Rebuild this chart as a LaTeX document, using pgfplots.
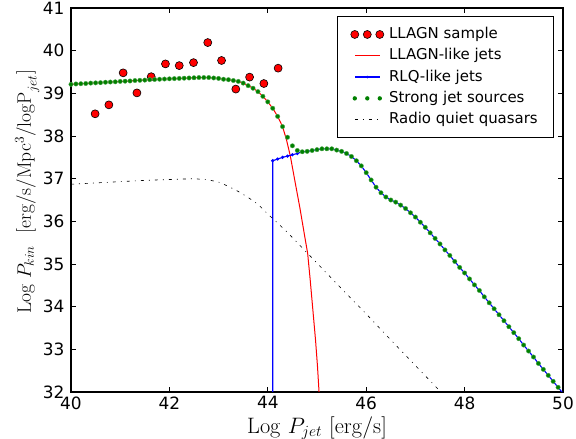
\documentclass[border=0pt]{standalone}
\usepackage[no-math]{fontspec}
\setmainfont{DejaVu Sans}
\usepackage{pgfplots}
\pgfplotsset{compat=1.18}
\definecolor{mplgreen}{rgb}{0,0.5,0}
\definecolor{mplred}{rgb}{1,0,0}

\pgfplotstableread{
x y
40.49 38.52
40.77 38.73
41.06 39.48
41.34 39.01
41.63 39.39
41.92 39.69
42.20 39.65
42.49 39.72
42.78 40.19
43.06 39.77
43.35 39.10
43.63 39.38
43.92 39.23
44.21 39.59
}\llagn

\pgfplotstableread{
x y
40.0 39.21
40.1 39.22
40.2 39.225
40.3 39.23
40.4 39.24
40.5 39.245
40.6 39.25
40.7 39.26
40.8 39.265
40.9 39.27
41.0 39.28
41.1 39.285
41.2 39.29
41.3 39.30
41.4 39.305
41.5 39.31
41.6 39.32
41.7 39.325
41.8 39.33
41.9 39.335
42.0 39.34
42.1 39.345
42.2 39.35
42.3 39.355
42.4 39.36
42.5 39.365
42.6 39.37
42.7 39.37
42.8 39.37
42.9 39.36
43.0 39.35
43.1 39.33
43.2 39.32
43.3 39.30
43.4 39.28
43.5 39.24
43.6 39.18
43.7 39.12
43.8 39.04
43.9 38.93
44.0 38.80
44.1 38.65
44.2 38.46
44.3 38.22
44.38 37.91
44.46 37.52
44.55 36.95
44.65 36.33
44.75 35.65
44.81 35.25
44.86 34.65
44.91 34.00
44.97 33.22
45.01 32.60
45.04 32.03
45.06 31.50
}\llagnjets

\pgfplotstableread{
x y
44.1 20.00
44.1 37.42
44.2 37.46
44.3 37.50
44.4 37.53
44.5 37.56
44.6 37.59
44.7 37.63
44.8 37.64
44.9 37.66
45.0 37.68
45.1 37.70
45.2 37.70
45.3 37.70
45.4 37.67
45.5 37.64
45.6 37.59
45.7 37.52
45.8 37.42
45.9 37.30
46.0 37.14
46.1 36.97
46.2 36.80
46.3 36.67
46.4 36.57
46.5 36.50
46.6 36.45
46.7 36.38
46.8 36.30
46.9 36.20
47.0 36.10
47.1 35.98
47.2 35.86
47.3 35.73
47.4 35.60
47.5 35.47
47.6 35.33
47.7 35.20
47.8 35.06
47.9 34.92
48.0 34.79
48.1 34.65
48.2 34.51
48.3 34.38
48.4 34.23
48.5 34.09
48.6 33.95
48.7 33.81
48.8 33.67
48.9 33.53
49.0 33.39
49.1 33.25
49.2 33.10
49.3 32.96
49.4 32.82
49.5 32.67
49.6 32.53
49.7 32.39
49.8 32.25
49.9 32.11
50.0 31.97
}\rlq

\pgfplotstableread{
x y
40.0 39.21
40.1 39.22
40.2 39.225
40.3 39.23
40.4 39.24
40.5 39.245
40.6 39.25
40.7 39.26
40.8 39.265
40.9 39.27
41.0 39.28
41.1 39.285
41.2 39.29
41.3 39.30
41.4 39.305
41.5 39.31
41.6 39.32
41.7 39.325
41.8 39.33
41.9 39.335
42.0 39.34
42.1 39.345
42.2 39.35
42.3 39.355
42.4 39.36
42.5 39.365
42.6 39.37
42.7 39.37
42.8 39.37
42.9 39.36
43.0 39.35
43.1 39.33
43.2 39.32
43.3 39.30
43.4 39.28
43.5 39.24
43.6 39.18
43.7 39.12
43.8 39.04
43.9 38.93
44.0 38.80
44.1 38.65
44.2 38.46
44.3 38.22
44.4 37.97
44.5 37.77
44.6 37.66
44.7 37.63
44.8 37.64
44.9 37.66
45.0 37.68
45.1 37.70
45.2 37.70
45.3 37.70
45.4 37.67
45.5 37.64
45.6 37.59
45.7 37.52
45.8 37.42
45.9 37.30
46.0 37.14
46.1 36.97
46.2 36.80
46.3 36.67
46.4 36.57
46.5 36.50
46.6 36.45
46.7 36.38
46.8 36.30
46.9 36.20
47.0 36.10
47.1 35.98
47.2 35.86
47.3 35.73
47.4 35.60
47.5 35.47
47.6 35.33
47.7 35.20
47.8 35.06
47.9 34.92
48.0 34.79
48.1 34.65
48.2 34.51
48.3 34.38
48.4 34.23
48.5 34.09
48.6 33.95
48.7 33.81
48.8 33.67
48.9 33.53
49.0 33.39
49.1 33.25
49.2 33.10
49.3 32.96
49.4 32.82
49.5 32.67
49.6 32.53
49.7 32.39
49.8 32.25
49.9 32.11
50.0 31.97
}\strong

\pgfplotstableread{
x y
40.0 36.87
40.5 36.90
41.0 36.93
41.5 36.96
42.0 36.98
42.5 37.00
42.8 36.97
43.0 36.92
43.2 36.82
43.4 36.70
43.6 36.56
43.8 36.40
44.0 36.17
44.2 35.96
44.4 35.74
44.6 35.50
44.8 35.26
45.0 35.02
45.5 34.42
46.0 33.83
46.5 33.22
47.0 32.62
47.5 32.02
47.6 31.90
}\rqq

\begin{document}
\begin{tikzpicture}
\useasboundingbox (-71bp,-47bp) rectangle (505bp,392bp);
\begin{axis}[
  at={(0,0)}, anchor=south west,
  scale only axis, width=492bp, height=384bp,
  xmin=40, xmax=50, ymin=32, ymax=41,
  xtick={40,42,44,46,48,50}, ytick={32,33,34,35,36,37,38,39,40,41},
  tick align=inside, major tick length=5bp,
  xtick pos=both, ytick pos=both,
  tick style={black, line width=0.8bp},
  axis line style={black, line width=1.2bp},
  /pgf/number format/assume math mode=true,
  ticklabel style={font=\fontsize{17}{17}\selectfont},
  xticklabel style={yshift=-1bp},
  yticklabel style={xshift=-3bp},
  xlabel={$\mathrm{Log}\ P_{jet}\ [\mathrm{erg/s}]$},
  ylabel={$\mathrm{Log}\ P_{kin}\ \ [\mathrm{erg/s/Mpc^3/logP}_{jet}]$},
  every axis x label/.style={at={(axis description cs:0.5,-0.1068)}, anchor=base, scale=1.08, font=\fontsize{20.74}{22}\selectfont},
  every axis y label/.style={at={(axis description cs:-0.0813,0.521)}, rotate=90, anchor=base, scale=0.94, font=\fontsize{20.74}{22}\selectfont},
  legend style={
    at={(0.982,0.979)}, anchor=north east,
    draw=black, line width=0.8bp, fill=white,
    inner xsep=11bp, inner ysep=10bp,
    font=\fontsize{15}{15}\selectfont,
    nodes={inner xsep=5bp, inner ysep=0bp, text height=12bp, text depth=4bp},
    row sep=5.3bp,
  },
  legend cell align=left,
]
\addlegendimage{legend image code/.code={\path[draw=none,fill=none] (-6bp,0bp) -- (25bp,0bp);
    \path[draw=black, fill=mplred, line width=0.6bp] (0bp,0bp) circle (4bp) (12.5bp,0bp) circle (4bp) (25bp,0bp) circle (4bp);}}
\addlegendentry{LLAGN sample}
\addlegendimage{legend image code/.code={\path[draw=none,fill=none] (-6bp,0bp) -- (25bp,0bp);
    \path[draw=none, fill=mplred] (0bp,-0.7bp) rectangle (25bp,0.7bp);}}
\addlegendentry{LLAGN-like jets}
\addlegendimage{legend image code/.code={\path[draw=none,fill=none] (-6bp,0bp) -- (25bp,0bp);
    \path[draw=none, fill=blue] (0bp,-0.6bp) rectangle (25bp,0.6bp);
    \path[draw=none, fill=blue] (12.5bp,0bp) circle (1.4bp);}}
\addlegendentry{RLQ-like jets}
\addlegendimage{legend image code/.code={\path[draw=none,fill=none] (-6bp,0bp) -- (25bp,0bp);
    \path[draw=none, fill=mplgreen] (0bp,0bp) circle (2.2bp) (12.5bp,0bp) circle (2.2bp) (25bp,0bp) circle (2.2bp);}}
\addlegendentry{Strong jet sources}
\addlegendimage{legend image code/.code={\path[draw=none,fill=none] (-6bp,0bp) -- (25bp,0bp);
    \path[draw=black, line width=0.6bp, dash pattern=on 3bp off 5bp on 1bp off 5bp] (0bp,0bp) -- (25bp,0bp);}}
\addlegendentry{Radio quiet quasars}

\addplot[forget plot, only marks, mark=*, mark size=4bp, mark options={fill=mplred, draw=black, line width=0.6bp}]
  table[x=x,y=y] {\llagn};
\addplot[forget plot, mplred, line width=1bp, no marks]
  table[x=x,y=y] {\llagnjets};
\addplot[forget plot, blue, line width=1.1bp, mark=*, mark size=1bp, mark options={fill=blue, draw=blue}]
  table[x=x,y=y] {\rlq};
\addplot[forget plot, only marks, mark=*, mark size=2.2bp, mark options={fill=mplgreen, draw=mplgreen!70!white, line width=0.4bp}]
  table[x=x,y=y] {\strong};
\addplot[forget plot, black, line width=0.6bp, no marks, dash pattern=on 3bp off 5bp on 1bp off 5bp]
  table[x=x,y=y] {\rqq};
\end{axis}
\end{tikzpicture}
\end{document}
